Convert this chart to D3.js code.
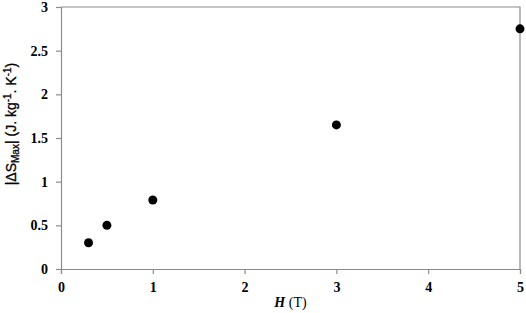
<!DOCTYPE html>
<html>
<head>
<meta charset="utf-8">
<script src="https://cdn.jsdelivr.net/npm/d3@7"></script>
<style>
  body { margin: 0; background: #fff; }
  .tick text { font-family: "Liberation Serif", "Times New Roman", serif; font-weight: bold; font-size: 14px; fill: #000; }
</style>
</head>
<body>
<div id="chart"></div>
<script>
// field (T) and |dS max| values
var fieldT = [0.3, 0.5, 1, 3, 5];
var entropy = [0.3, 0.5, 0.79, 1.65, 2.75];
var xTicks = [0, 1, 2, 3, 4, 5];
var yTicks = [0, 0.5, 1, 1.5, 2, 2.5, 3];

var margin = { top: 7, right: 6, bottom: 44, left: 61 },
    width = 526 - margin.left - margin.right,
    height = 313 - margin.top - margin.bottom;

var svg = d3.select("#chart").append("svg")
    .attr("width", 526)
    .attr("height", 313);

var g = svg.append("g")
    .attr("transform", "translate(" + margin.left + "," + margin.top + ")");

var x = d3.scaleLinear().domain([0, 5]).range([0, width]);
var y = d3.scaleLinear().domain([0, 3]).range([height, 0]);

// frame top and right
g.append("path")
    .attr("d", "M0,0H" + width + "V" + height)
    .attr("fill", "none")
    .attr("stroke", "#8c8c8c")
    .attr("stroke-width", 1.2);

var gx = g.append("g")
    .attr("transform", "translate(0," + height + ")")
    .call(d3.axisBottom(x).tickValues(xTicks).tickFormat(d3.format("d")).tickSize(5).tickPadding(8));

var gy = g.append("g")
    .call(d3.axisLeft(y).tickValues(yTicks).tickFormat(function (d) { return d; }).tickSize(5).tickPadding(8));

[gx, gy].forEach(function (a) {
  a.select(".domain").attr("stroke", "#8c8c8c").attr("stroke-width", 1.2);
  a.selectAll(".tick line").attr("stroke", "#8c8c8c").attr("stroke-width", 1.2);
});

g.selectAll(".dot")
    .data(fieldT)
    .enter()
    .append("circle")
    .attr("class", "dot")
    .attr("cx", function (d) { return x(d); })
    .attr("cy", function (d, i) { return y(entropy[i]); })
    .attr("r", 4.5)
    .attr("fill", "#000");

// x title
var xt = svg.append("text")
    .attr("x", margin.left + x(2.5))
    .attr("y", 307)
    .attr("text-anchor", "middle")
    .style("font-family", "Liberation Serif, Times New Roman, serif")
    .style("font-size", "14px");
xt.append("tspan").style("font-weight", "bold").style("font-style", "italic").text("H");
xt.append("tspan").text(" (T)");

// y title
var yt = svg.append("text")
    .attr("transform", "translate(16,124) rotate(-90)")
    .attr("text-anchor", "middle")
    .style("font-family", "Liberation Sans, Arial, sans-serif")
    .style("font-size", "14px")
    .attr("stroke", "#000")
    .attr("stroke-width", 0.3);
yt.append("tspan").text("|\u0394S");
yt.append("tspan").attr("dy", 3).style("font-size", "10px").text("Max");
yt.append("tspan").attr("dy", -3).text("| (J. kg");
yt.append("tspan").attr("dy", -5).style("font-size", "10px").text("-1");
yt.append("tspan").attr("dy", 5).text(". K");
yt.append("tspan").attr("dy", -5).style("font-size", "10px").text("-1");
yt.append("tspan").attr("dy", 5).text(")");
</script>
</body>
</html>
